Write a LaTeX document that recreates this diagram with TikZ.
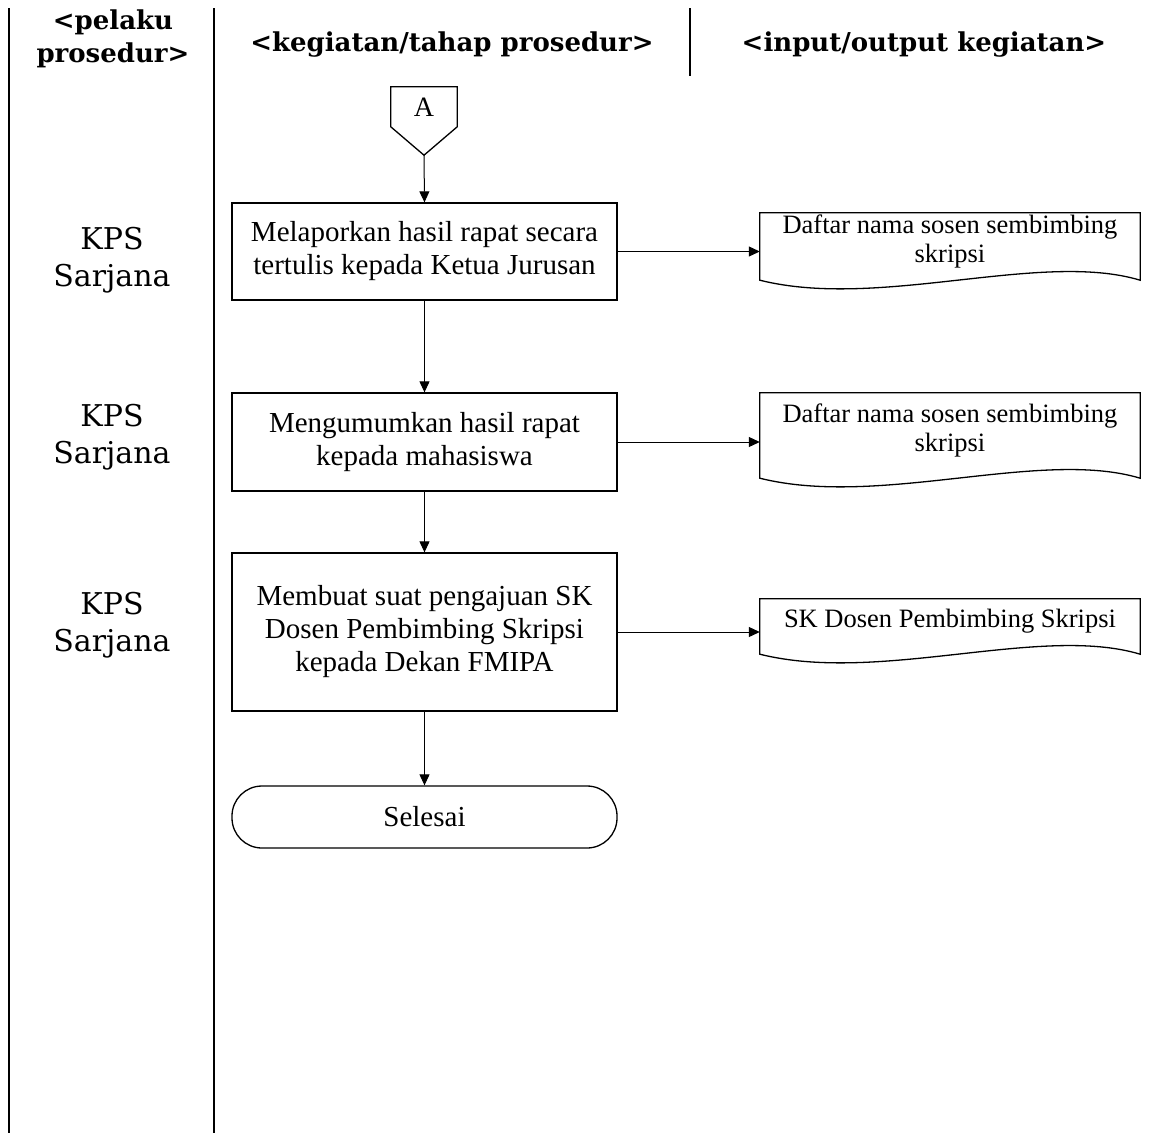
\documentclass[tikz,border=0pt]{standalone}
\usepackage{fontspec}
\setmainfont{Liberation Serif}
\newfontfamily\headfont{DejaVu Serif}
\usetikzlibrary{arrows.meta,calc}

% outline of a document symbol drawn round a named (undrawn) text node
\newcommand\docoutline[1]{%
  \draw[outline] (#1.north west) -- (#1.north east)
    -- ($(#1.south east)+(0,10)$)
    .. controls ($(#1.south east)+(-100,-20)$) and ($(#1.south west)+(120,40)$)
    .. ($(#1.south west)+(0,10)$) -- cycle;}

\begin{document}
\begin{tikzpicture}[x=1pt,y=-1pt,
  lane/.style={line width=2.6pt},
  head/.style={font=\headfont\bfseries\fontsize{26}{33}\selectfont, align=center, inner sep=0pt},
  actor/.style={font=\headfont\fontsize{30}{37}\selectfont, align=center, inner sep=0pt},
  proc/.style={draw, line width=1.3pt, minimum width=385pt, align=center,
    font=\fontsize{29}{33}\selectfont, inner sep=0pt},
  term/.style={proc, rounded corners=30pt},
  docbox/.style={minimum width=380pt, align=center, font=\fontsize{26.5}{29}\selectfont, inner sep=0pt},
  flow/.style={line width=1pt, -{Triangle[length=11pt,width=10pt]}},
  outline/.style={line width=1.3pt}
]
\useasboundingbox (0,0) rectangle (1154,1133);
\fill[white] (0,0) rectangle (1154,1133);

% swimlane separators
\draw[lane] (9,8) -- (9,1133);
\draw[lane] (214,8) -- (214,1133);
\draw[lane] (690,8) -- (690,76);

% column headings
\node[head] (hActor) at (113,39) {<pelaku\\prosedur>};
\node[head] (hStep) at (452,45) {<kegiatan/tahap prosedur>};
\node[head] (hIO) at (924,45) {<input/output kegiatan>};

% off-page connector
\node[minimum width=66pt, minimum height=68pt, inner sep=0pt] (offpage) at (424,121) {};
\draw[outline] (offpage.north west) -- (offpage.north east)
  -- ($(offpage.north east)+(0,40)$) -- (offpage.south)
  -- ($(offpage.north west)+(0,40)$) -- cycle;
\node[font=\fontsize{28}{28}\selectfont, inner sep=0pt] (offlabel) at (424,107) {A};

% actors
\node[actor] (a1) at (112,260) {KPS\\Sarjana};
\node[actor] (a2) at (112,437) {KPS\\Sarjana};
\node[actor] (a3) at (112,625) {KPS\\Sarjana};

% activities
\node[proc, minimum height=97pt] (p1) at (424.5,251.5) {Melaporkan hasil rapat secara\\tertulis kepada Ketua Jurusan};
\node[proc, minimum height=98pt] (p2) at (424.5,442) {Mengumumkan hasil rapat\\kepada mahasiswa};
\node[proc, minimum height=158pt] (p3) at (424.5,632) {Membuat suat pengajuan SK\\Dosen Pembimbing Skripsi\\kepada Dekan FMIPA};
\node[term, minimum height=62pt] (end) at (424.5,817) {Selesai};

% documents
\node[docbox, minimum height=57pt] (d1) at (950,241.5) {Daftar nama sosen sembimbing\\skripsi};
\node[docbox, minimum height=75pt] (d2) at (950,430.5) {Daftar nama sosen sembimbing\\skripsi};
\node[docbox, minimum height=45pt] (d3) at (950,621.5) {SK Dosen Pembimbing Skripsi};
\docoutline{d1}
\docoutline{d2}
\docoutline{d3}

% flow
\draw[flow] (offpage.south) -- (p1.north);
\draw[flow] (p1.south) -- (p2.north);
\draw[flow] (p2.south) -- (p3.north);
\draw[flow] (p3.south) -- (end.north);
\draw[flow] (p1.east) -- (p1.east -| d1.west);
\draw[flow] (p2.east) -- (p2.east -| d2.west);
\draw[flow] (p3.east) -- (p3.east -| d3.west);
\end{tikzpicture}
\end{document}
